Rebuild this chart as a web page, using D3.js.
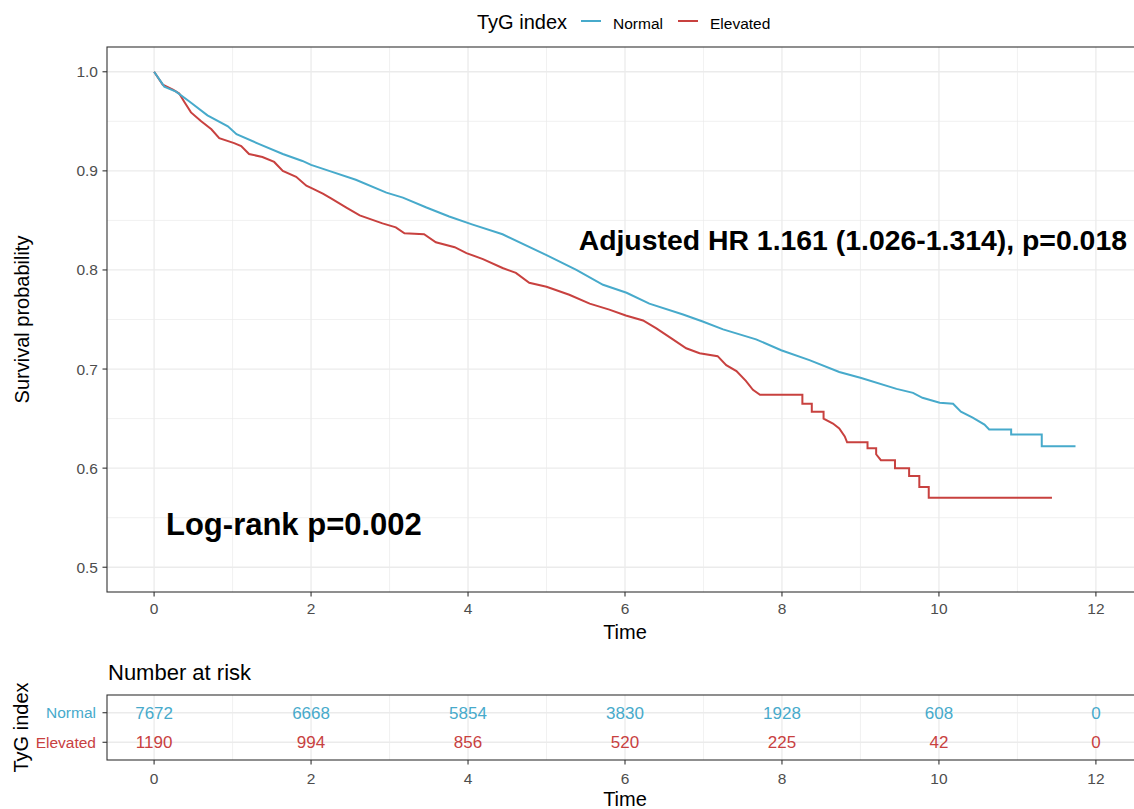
<!DOCTYPE html>
<html>
<head>
<meta charset="utf-8">
<script src="https://cdn.jsdelivr.net/npm/d3@7"></script>
<style>
  body { margin: 0; background: #fff; }
  text { font-family: "Liberation Sans", Arial, sans-serif; }
  .tick-label { fill: #4D4D4D; font-size: 15.5px; }
  .axis-title { fill: #000; font-size: 20px; }
  .annot { fill: #000; font-weight: bold; }
</style>
</head>
<body>
<svg id="chart"></svg>
<script>
// groups
var groups = ["Normal", "Elevated"];
var groupColors = ["#47AACB", "#C8413F"];

// Kaplan-Meier curves (time, survival)
var normalTime = [0, 0.13, 0.28, 0.45, 0.68, 0.94, 1.05, 1.34, 1.64, 1.89, 2.0, 2.23, 2.57, 2.96, 3.17,
  3.47, 3.76, 4.05, 4.44, 5.0, 5.38, 5.72, 6.02, 6.31, 6.74, 6.99, 7.25, 7.67, 7.99, 8.35,
  8.73, 9.01, 9.46, 9.67, 9.79, 10.01, 10.18, 10.28, 10.43, 10.58, 10.64, 10.92, 10.92, 11.31, 11.31, 11.74];
var normalSurv = [1.0, 0.985, 0.980, 0.970, 0.956, 0.945, 0.937, 0.927, 0.917, 0.910, 0.906, 0.900, 0.891, 0.878, 0.873,
  0.863, 0.854, 0.846, 0.836, 0.815, 0.800, 0.785, 0.777, 0.766, 0.755, 0.748, 0.740, 0.730, 0.719, 0.709,
  0.697, 0.691, 0.680, 0.676, 0.671, 0.666, 0.665, 0.657, 0.651, 0.644, 0.639, 0.639, 0.634, 0.634, 0.622, 0.622];

var elevatedTime = [0, 0.11, 0.24, 0.32, 0.39, 0.47, 0.60, 0.73, 0.83, 1.02, 1.11, 1.21, 1.38, 1.53, 1.64,
  1.81, 1.94, 2.02, 2.15, 2.26, 2.45, 2.62, 2.91, 3.08, 3.19, 3.44, 3.59, 3.83, 3.98, 4.19,
  4.44, 4.61, 4.78, 5.0, 5.29, 5.55, 5.80, 6.01, 6.23, 6.40, 6.61, 6.78, 6.95, 7.18, 7.29,
  7.42, 7.54, 7.63, 7.72, 8.26, 8.26, 8.38, 8.38, 8.53, 8.53, 8.65, 8.73, 8.80, 8.83, 9.09,
  9.09, 9.20, 9.20, 9.26, 9.44, 9.44, 9.62, 9.62, 9.75, 9.75, 9.87, 9.87, 11.44];
var elevatedSurv = [1.0, 0.987, 0.982, 0.978, 0.969, 0.959, 0.950, 0.942, 0.933, 0.928, 0.925, 0.917, 0.914, 0.909, 0.900,
  0.894, 0.885, 0.882, 0.877, 0.872, 0.863, 0.855, 0.847, 0.843, 0.837, 0.836, 0.828, 0.823, 0.817, 0.811,
  0.802, 0.797, 0.787, 0.783, 0.775, 0.766, 0.760, 0.754, 0.749, 0.741, 0.730, 0.721, 0.716, 0.713, 0.704,
  0.698, 0.688, 0.679, 0.674, 0.674, 0.665, 0.665, 0.657, 0.657, 0.650, 0.645, 0.640, 0.632, 0.626, 0.626,
  0.620, 0.620, 0.614, 0.608, 0.608, 0.600, 0.600, 0.592, 0.592, 0.581, 0.581, 0.570, 0.570];

// number at risk
var riskTimes = [0, 2, 4, 6, 8, 10, 12];
var riskNormal = [7672, 6668, 5854, 3830, 1928, 608, 0];
var riskElevated = [1190, 994, 856, 520, 225, 42, 0];

var xTicks = [0, 2, 4, 6, 8, 10, 12];
var yTicks = [0.5, 0.6, 0.7, 0.8, 0.9, 1.0];

var width = 1134, height = 809;
var panel = { left: 107, right: 1143, top: 47, bottom: 592 };
var table = { top: 695, bottom: 760 };

var svg = d3.select("#chart").attr("width", width).attr("height", height);

// ggplot style 5% expansion
function expand(dom, m) { var d = dom[1] - dom[0]; return [dom[0] - d * m, dom[1] + d * m]; }

var x = d3.scaleLinear().domain(expand([0, 12], 0.05)).range([panel.left, panel.right]);
var y = d3.scaleLinear().domain(expand([0.5, 1.0], 0.05)).range([panel.bottom, panel.top]);
var yRisk = d3.scalePoint().domain(groups).range([table.top, table.bottom]).padding(0.6);

function gridV(g, top, bottom) {
  var minor = d3.range(1, 13, 2);
  g.selectAll(".vminor").data(minor).enter().append("line")
    .attr("x1", function (d) { return x(d); }).attr("x2", function (d) { return x(d); })
    .attr("y1", top).attr("y2", bottom)
    .attr("stroke", "#EBEBEB").attr("stroke-width", 0.7);
  g.selectAll(".vmajor").data(xTicks).enter().append("line")
    .attr("x1", function (d) { return x(d); }).attr("x2", function (d) { return x(d); })
    .attr("y1", top).attr("y2", bottom)
    .attr("stroke", "#EBEBEB").attr("stroke-width", 1.3);
}

function xAxis(bottom, labelY) {
  var g = svg.append("g");
  g.selectAll("line").data(xTicks).enter().append("line")
    .attr("x1", function (d) { return x(d); }).attr("x2", function (d) { return x(d); })
    .attr("y1", bottom).attr("y2", bottom + 4.5)
    .attr("stroke", "#333").attr("stroke-width", 1.1);
  g.selectAll("text").data(xTicks).enter().append("text")
    .classed("tick-label", true)
    .attr("x", function (d) { return x(d); }).attr("y", labelY)
    .attr("text-anchor", "middle")
    .text(function (d) { return d; });
}

//begin: main panel
var main = svg.append("g");
gridV(main, panel.top, panel.bottom);
main.selectAll(".hminor").data(d3.range(0.55, 1.0, 0.1)).enter().append("line")
  .attr("x1", panel.left).attr("x2", panel.right)
  .attr("y1", function (d) { return y(d); }).attr("y2", function (d) { return y(d); })
  .attr("stroke", "#EBEBEB").attr("stroke-width", 0.7);
main.selectAll(".hmajor").data(yTicks).enter().append("line")
  .attr("x1", panel.left).attr("x2", panel.right)
  .attr("y1", function (d) { return y(d); }).attr("y2", function (d) { return y(d); })
  .attr("stroke", "#EBEBEB").attr("stroke-width", 1.3);

var curves = [
  { name: "Normal", color: groupColors[0], pts: d3.zip(normalTime, normalSurv) },
  { name: "Elevated", color: groupColors[1], pts: d3.zip(elevatedTime, elevatedSurv) }
];
var line = d3.line()
  .x(function (d) { return x(d[0]); })
  .y(function (d) { return y(d[1]); });
// draw elevated first so normal sits on top at the start
main.selectAll(".km").data(curves.slice().reverse()).enter().append("path")
  .attr("d", function (d) { return line(d.pts); })
  .attr("fill", "none")
  .attr("stroke", function (d) { return d.color; })
  .attr("stroke-width", 2);

main.append("rect")
  .attr("x", panel.left).attr("y", panel.top)
  .attr("width", panel.right - panel.left).attr("height", panel.bottom - panel.top)
  .attr("fill", "none").attr("stroke", "#333").attr("stroke-width", 1.1);

// y axis
main.selectAll(".ytick").data(yTicks).enter().append("line")
  .attr("x1", panel.left - 4.5).attr("x2", panel.left)
  .attr("y1", function (d) { return y(d); }).attr("y2", function (d) { return y(d); })
  .attr("stroke", "#333").attr("stroke-width", 1.1);
main.selectAll(".ylab").data(yTicks).enter().append("text")
  .classed("tick-label", true)
  .attr("x", 98).attr("y", function (d) { return y(d) + 5.5; })
  .attr("text-anchor", "end")
  .text(function (d) { return d.toFixed(1); });

xAxis(panel.bottom, 614);

svg.append("text").classed("axis-title", true)
  .attr("x", (panel.left + panel.right) / 2).attr("y", 639)
  .attr("text-anchor", "middle").text("Time");
svg.append("text").classed("axis-title", true)
  .attr("transform", "translate(" + [29, (panel.top + panel.bottom) / 2] + ") rotate(-90)")
  .attr("text-anchor", "middle").text("Survival probability");

// annotations
svg.append("text").classed("annot", true)
  .attr("x", 1127).attr("y", 249.5).attr("text-anchor", "end")
  .style("font-size", "28.4px")
  .text("Adjusted HR 1.161 (1.026-1.314), p=0.018");
svg.append("text").classed("annot", true)
  .attr("x", 166).attr("y", 535)
  .style("font-size", "31px")
  .text("Log-rank p=0.002");
//end: main panel

//begin: legend
var legend = svg.append("g");
legend.append("text").attr("x", 477).attr("y", 29)
  .style("font-size", "20px").attr("fill", "#000").text("TyG index");
var legendX = [581, 678];
var legendItems = legend.selectAll(".leg").data(groups).enter().append("g")
  .attr("transform", function (d, i) { return "translate(" + [legendX[i], 0] + ")"; });
legendItems.append("line")
  .attr("x1", 0).attr("x2", 20).attr("y1", 21).attr("y2", 21)
  .attr("stroke", function (d, i) { return groupColors[i]; }).attr("stroke-width", 2);
legendItems.append("text")
  .attr("x", 32).attr("y", 28.5)
  .style("font-size", "15.5px").attr("fill", "#000")
  .text(function (d) { return d; });
//end: legend

//begin: risk table
var risk = svg.append("g");
risk.append("text").attr("x", 108).attr("y", 680)
  .style("font-size", "22px").attr("fill", "#000").text("Number at risk");
gridV(risk, table.top, table.bottom);
risk.selectAll(".rgrid").data(groups).enter().append("line")
  .attr("x1", panel.left).attr("x2", panel.right)
  .attr("y1", function (d) { return yRisk(d); }).attr("y2", function (d) { return yRisk(d); })
  .attr("stroke", "#EBEBEB").attr("stroke-width", 1.3);

var riskRows = [riskNormal, riskElevated];
groups.forEach(function (g, gi) {
  risk.selectAll(".n" + gi).data(riskTimes).enter().append("text")
    .attr("x", function (d) { return x(d); })
    .attr("y", yRisk(g) + 6)
    .attr("text-anchor", "middle")
    .style("font-size", "17px")
    .attr("fill", groupColors[gi])
    .text(function (d, i) { return riskRows[gi][i]; });
});

risk.append("rect")
  .attr("x", panel.left).attr("y", table.top)
  .attr("width", panel.right - panel.left).attr("height", table.bottom - table.top)
  .attr("fill", "none").attr("stroke", "#333").attr("stroke-width", 1.1);

risk.selectAll(".rtick").data(groups).enter().append("line")
  .attr("x1", panel.left - 4.5).attr("x2", panel.left)
  .attr("y1", function (d) { return yRisk(d); }).attr("y2", function (d) { return yRisk(d); })
  .attr("stroke", "#333").attr("stroke-width", 1.1);
risk.selectAll(".rlab").data(groups).enter().append("text")
  .attr("x", 96).attr("y", function (d) { return yRisk(d) + 5.5; })
  .attr("text-anchor", "end")
  .style("font-size", "15.5px")
  .attr("fill", function (d, i) { return groupColors[i]; })
  .text(function (d) { return d; });

xAxis(table.bottom, 784);

svg.append("text").classed("axis-title", true)
  .attr("x", (panel.left + panel.right) / 2).attr("y", 806)
  .attr("text-anchor", "middle").text("Time");
svg.append("text").classed("axis-title", true)
  .attr("transform", "translate(" + [28, (table.top + table.bottom) / 2] + ") rotate(-90)")
  .attr("text-anchor", "middle").text("TyG index");
//end: risk table
</script>
</body>
</html>
